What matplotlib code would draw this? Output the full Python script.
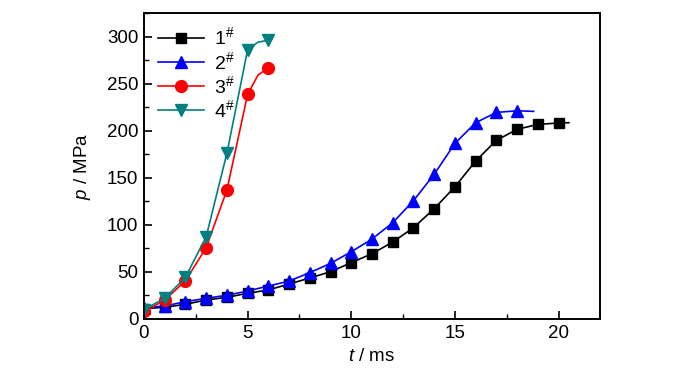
import matplotlib
matplotlib.use("Agg")
import matplotlib.pyplot as plt
from matplotlib.ticker import MultipleLocator

plt.rcParams['font.family'] = ['Liberation Sans', 'DejaVu Sans']
plt.rcParams['mathtext.fontset'] = 'custom'
plt.rcParams['mathtext.rm'] = 'Liberation Sans'
plt.rcParams['mathtext.it'] = 'Liberation Sans:italic'

# 1# : markers at integer t, last point is line tail only
t1 = [0, 1, 2, 3, 4, 5, 6, 7, 8, 9, 10, 11, 12, 13, 14, 15, 16, 17, 18, 19, 20, 20.5]
p1 = [11, 12.4, 15.6, 20.2, 23, 27.3, 30.8, 37.2, 43.5, 50.2, 59.8, 69.3, 81.7, 96.9,
      117.1, 140.4, 167.7, 189.7, 201.4, 206.7, 208.1, 208.5]
# 2#
t2 = [0, 1, 2, 3, 4, 5, 6, 7, 8, 9, 10, 11, 12, 13, 14, 15, 16, 17, 18, 18.8]
p2 = [12, 13.8, 18.4, 22, 25.2, 29.7, 35, 40.3, 49.2, 59.1, 71.4, 84.9, 102.2, 125.6,
      153.6, 186.5, 208.4, 219.4, 221.1, 220.5]
# 3#
t3 = [0, 1, 2, 3, 4, 5, 5.5, 6]
p3 = [8, 20, 40.7, 75.7, 137, 238.5, 259, 267]
# 4#
t4 = [0, 1, 2, 3, 4, 5, 5.5, 6]
p4 = [10, 22, 44.3, 87.4, 176, 286, 294, 296]

labels = ['1$^{\\#}$', '2$^{\\#}$', '3$^{\\#}$', '4$^{\\#}$']

fig = plt.figure(figsize=(7, 3.73), dpi=100)
ax = fig.add_axes([0.2057, 0.1448, 0.6514, 0.8204])

ax.plot(t1, p1, color='black', marker='s', markersize=7.5, lw=1.2,
        markevery=list(range(21)), label=labels[0])
ax.plot(t2, p2, color='blue', marker='^', markersize=8.5, lw=1.2,
        markevery=list(range(19)), label=labels[1])
ax.plot(t3, p3, color='red', marker='o', markersize=8.5, lw=1.2,
        markevery=[0, 1, 2, 3, 4, 5, 7], label=labels[2])
ax.plot(t4, p4, color='teal', marker='v', markersize=8.5, lw=1.2,
        markevery=[0, 1, 2, 3, 4, 5, 7], label=labels[3])

ax.set_xlim(0, 22)
ax.set_ylim(0, 325)
ax.xaxis.set_major_locator(MultipleLocator(5))
ax.xaxis.set_minor_locator(MultipleLocator(2.5))
ax.yaxis.set_major_locator(MultipleLocator(50))
ax.yaxis.set_minor_locator(MultipleLocator(25))
ax.tick_params(which='major', direction='in', length=6, width=1.2, labelsize=13.5, pad=4)
ax.tick_params(which='minor', direction='in', length=3.5, width=1.0)
for s in ax.spines.values():
    s.set_linewidth(1.4)

ax.set_xlabel('$\\it{t}$ / ms', fontsize=13.5, labelpad=5)
ax.set_ylabel('$\\it{p}$ / MPa', fontsize=13.5, labelpad=10)

ax.legend(loc='upper left', frameon=False, fontsize=14, handlelength=2.4,
          borderaxespad=0.3, labelspacing=0.12, handletextpad=0.5,
          bbox_to_anchor=(0.0, 1.0))

fig.savefig('out.png', dpi=100)
